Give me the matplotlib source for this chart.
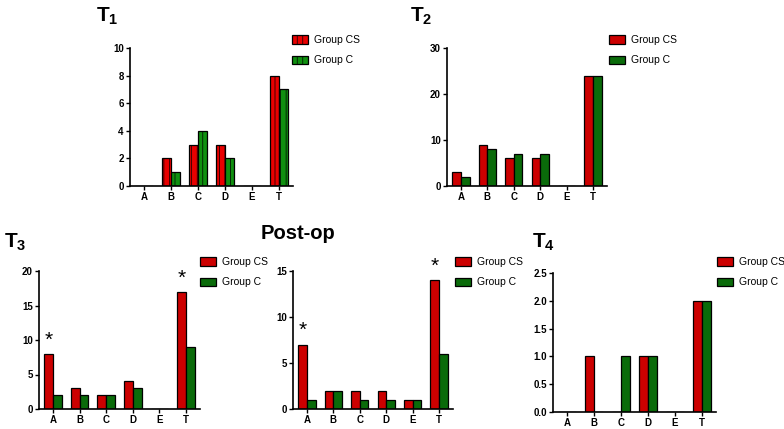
import matplotlib
matplotlib.use("Agg")
import matplotlib.pyplot as plt
import numpy as np

plt.rcParams['font.family'] = ['Liberation Sans', 'DejaVu Sans']
plt.rcParams['mathtext.fontset'] = 'custom'
plt.rcParams['mathtext.bf'] = 'Liberation Sans:bold'
plt.rcParams['mathtext.rm'] = 'Liberation Sans'
plt.rcParams['hatch.linewidth'] = 0.5

categories = ['A', 'B', 'C', 'D', 'E', 'T']
series_names = ['Group CS', 'Group C']

t1_cs = [0, 2, 3, 3, 0, 8]
t1_c = [0, 1, 4, 2, 0, 7]
t2_cs = [3, 9, 6, 6, 0, 24]
t2_c = [2, 8, 7, 7, 0, 24]
t3_cs = [8, 3, 2, 4, 0, 17]
t3_c = [2, 2, 2, 3, 0, 9]
post_cs = [7, 2, 2, 2, 1, 14]
post_c = [1, 2, 1, 1, 1, 6]
t4_cs = [0, 1, 0, 1, 0, 2]
t4_c = [0, 0, 1, 1, 0, 2]

t1_ticks = [0, 2, 4, 6, 8, 10]
t2_ticks = [0, 10, 20, 30]
t3_ticks = [0, 5, 10, 15, 20]
post_ticks = [0, 5, 10, 15]
t4_ticks = [0.0, 0.5, 1.0, 1.5, 2.0, 2.5]

W, H = 784, 429
fig = plt.figure(figsize=(W / 100, H / 100), dpi=100)

RED = '#cc0000'
GREEN = '#0a6b0a'


def add_ax(left, right, top, bottom):
    return fig.add_axes([left / W, (H - bottom) / H, (right - left) / W, (bottom - top) / H])


def panel(ax, cs, c, ticks, fmt, hatched=False, leg_xy=None, stars=None):
    x = np.arange(len(categories))
    w = 0.33
    kw = dict(edgecolor='black', linewidth=0.9)
    if hatched:
        b1 = ax.bar(x - w / 2, cs, w, color='#e80000', hatch='|||', label=series_names[0], **kw)
        b2 = ax.bar(x + w / 2, c, w, color='#109010', hatch='|||', label=series_names[1], **kw)
    else:
        b1 = ax.bar(x - w / 2, cs, w, color=RED, label=series_names[0], **kw)
        b2 = ax.bar(x + w / 2, c, w, color=GREEN, label=series_names[1], **kw)
    ax.set_xlim(-0.52, 5.52)
    ax.set_ylim(ticks[0], ticks[-1])
    ax.set_yticks(ticks)
    ax.set_yticklabels([fmt.format(t) for t in ticks])
    ax.set_xticks(x)
    ax.set_xticklabels(categories)
    for s in ['top', 'right']:
        ax.spines[s].set_visible(False)
    for s in ['left', 'bottom']:
        ax.spines[s].set_linewidth(1.2)
    ax.tick_params(axis='both', length=3, width=1.0, labelsize=7, pad=1.5)
    for lab in ax.get_xticklabels() + ax.get_yticklabels():
        lab.set_fontweight('bold')
    if stars:
        for i, yv in stars:
            ax.text(x[i] - w / 2, yv, '*', ha='center', va='center', fontsize=15, clip_on=False)
    if leg_xy is not None:
        ax.legend(loc='upper left', bbox_to_anchor=(leg_xy[0] / W, (H - leg_xy[1]) / H),
                  bbox_transform=fig.transFigure, frameon=False, fontsize=7.5,
                  borderpad=0, borderaxespad=0, handlelength=1.5, handleheight=0.9,
                  handletextpad=0.6, labelspacing=1.0)


ax1 = add_ax(130, 293, 48, 186)
panel(ax1, t1_cs, t1_c, t1_ticks, '{:d}', hatched=True, leg_xy=(292, 35))
ax2 = add_ax(447, 607, 48, 186)
panel(ax2, t2_cs, t2_c, t2_ticks, '{:d}', leg_xy=(609, 35))
ax3 = add_ax(39, 200, 271, 409)
panel(ax3, t3_cs, t3_c, t3_ticks, '{:d}', leg_xy=(200, 257), stars=[(0, 10.0), (5, 19.0)])
ax4 = add_ax(293, 453, 271, 409)
panel(ax4, post_cs, post_c, post_ticks, '{:d}', leg_xy=(455, 257), stars=[(0, 8.6), (5, 15.5)])
ax5 = add_ax(553, 716, 273, 412)
panel(ax5, t4_cs, t4_c, t4_ticks, '{:.1f}', leg_xy=(717, 257))

fig.text(96 / W, 1 - 16 / H, r'$\mathbf{T}_\mathbf{1}$', fontsize=15, va='center', ha='left')
fig.text(410 / W, 1 - 16 / H, r'$\mathbf{T}_\mathbf{2}$', fontsize=15, va='center', ha='left')
fig.text(4 / W, 1 - 242 / H, r'$\mathbf{T}_\mathbf{3}$', fontsize=15, va='center', ha='left')
fig.text(261 / W, 1 - 233 / H, 'Post-op', fontsize=14.5, fontweight='bold', va='center', ha='left')
fig.text(532 / W, 1 - 242 / H, r'$\mathbf{T}_\mathbf{4}$', fontsize=15, va='center', ha='left')

fig.savefig('out.png', dpi=100)
